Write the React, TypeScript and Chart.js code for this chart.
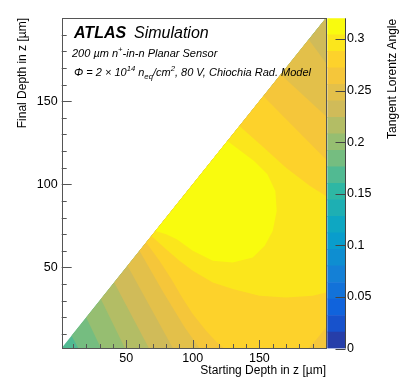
import React, { useEffect, useRef } from 'react';
import { Chart, registerables } from 'chart.js';
Chart.register(...registerables);

const FONT = '"Liberation Sans", Arial, Helvetica, sans-serif';

// ---- data ----
// contour levels of the tangent Lorentz angle (colour bar bands)
const LEVELS = [0, 0.016, 0.032, 0.048, 0.064, 0.08, 0.096, 0.112, 0.128, 0.144, 0.16,
  0.176, 0.192, 0.208, 0.224, 0.24, 0.256, 0.272, 0.288, 0.304, 0.32];
const Z_TICKS = [0, 0.05, 0.1, 0.15, 0.2, 0.25, 0.3];
const XY_MAJOR = [50, 100, 150];
const XY_MINOR = [10, 20, 30, 40, 60, 70, 80, 90, 110, 120, 130, 140, 160, 170, 180, 190];
const AXIS_MIN = 1.6;
const AXIS_MAX = 200;

// regions where tan(theta_L) >= LEVELS[k]; [starting depth, final depth] in um
const REGION_10 = [[1.6, 1.6], [200, 1.6], [200, 200]];
const REGION_11 = [[9, 9], [14, 1.6], [200, 1.6], [200, 200]];
const REGION_12 = [[20, 20], [31, 1.6], [200, 1.6], [200, 200]];
const REGION_13 = [[31, 31], [49, 1.6], [200, 1.6], [200, 200]];
const REGION_14 = [[41, 41], [67, 1.6], [200, 1.6], [200, 200]];
const REGION_15 = [[51, 51], [85, 1.6], [200, 1.6], [200, 173], [187, 187]];
const REGION_16 = [[60, 60], [78, 35], [94, 14], [105, 1.6], [200, 1.6], [200, 141], [166, 166]];
const REGION_17 = [[65, 65], [75, 54], [84, 43], [92, 32], [100, 22], [110, 12], [118, 5],
  [123, 1.6], [187, 1.6], [193, 7], [200, 14], [200, 115], [153, 153]];
const REGION_18 = [[69, 69], [80, 61], [90, 54], [100, 48], [115, 41], [130, 37], [150, 33],
  [170, 32], [190, 33], [200, 35], [200, 93], [188, 99], [170, 110], [152, 123], [135, 135]];
const REGION_19 = [[72, 72], [80, 70], [88, 67], [100, 60], [115, 54], [130, 53], [145, 56],
  [154, 63], [160, 72], [163, 84], [162, 96], [156, 106], [146, 114], [136, 120], [126, 126]];

const REGIONS: [number, number[][]][] = [
  [10, REGION_10], [11, REGION_11], [12, REGION_12], [13, REGION_13], [14, REGION_14],
  [15, REGION_15], [16, REGION_16], [17, REGION_17], [18, REGION_18], [19, REGION_19],
];

// ROOT kBird palette
const BIRD_STOPS = [0, 0.125, 0.25, 0.375, 0.5, 0.625, 0.75, 0.875, 1];
const BIRD_R = [0.2082, 0.0592, 0.078, 0.0232, 0.1802, 0.5301, 0.8186, 0.9956, 0.9764];
const BIRD_G = [0.1664, 0.3599, 0.5041, 0.6419, 0.7178, 0.7492, 0.7328, 0.7862, 0.9832];
const BIRD_B = [0.5293, 0.8684, 0.8385, 0.7914, 0.6425, 0.4662, 0.3499, 0.1968, 0.0539];

function bandColor(i: number): string {
  const f = (i + 0.99) / 20;
  let j = 0;
  while (j < BIRD_STOPS.length - 2 && f > BIRD_STOPS[j + 1]) j++;
  const t = (f - BIRD_STOPS[j]) / (BIRD_STOPS[j + 1] - BIRD_STOPS[j]);
  const c = (a: number[]) => Math.round(255 * (a[j] + (a[j + 1] - a[j]) * t));
  return `rgb(${c(BIRD_R)},${c(BIRD_G)},${c(BIRD_B)})`;
}

type Seg = { t: string; sup?: boolean; sub?: boolean };
function drawRich(ctx: CanvasRenderingContext2D, x: number, y: number, segs: Seg[], size: number) {
  let cx = x;
  for (const s of segs) {
    const fs = s.sup || s.sub ? size * 0.7 : size;
    ctx.font = `italic ${fs}px ${FONT}`;
    const dy = s.sup ? -size * 0.42 : s.sub ? size * 0.28 : 0;
    ctx.fillText(s.t, cx, y + dy);
    cx += ctx.measureText(s.t).width;
  }
}

const mainDecor = {
  id: 'mainDecor',
  afterDraw(chart: any) {
    const { ctx, chartArea: a, scales } = chart;
    ctx.save();
    ctx.strokeStyle = '#555';
    ctx.lineWidth = 1;
    ctx.beginPath();
    for (const v of [...XY_MAJOR, ...XY_MINOR]) {
      const len = XY_MAJOR.includes(v) ? 8 : 4;
      const px = Math.round(scales.x.getPixelForValue(v)) + 0.5;
      ctx.moveTo(px, a.bottom);
      ctx.lineTo(px, a.bottom - len);
      const py = Math.round(scales.y.getPixelForValue(v)) + 0.5;
      ctx.moveTo(a.left, py);
      ctx.lineTo(a.left + len * 1.25, py);
    }
    ctx.stroke();
    ctx.strokeRect(Math.round(a.left) + 0.5, Math.round(a.top) + 0.5,
      Math.round(a.right - a.left), Math.round(a.bottom - a.top));
    ctx.fillStyle = '#000';
    ctx.textBaseline = 'alphabetic';
    ctx.textAlign = 'left';
    ctx.font = `italic bold 16px ${FONT}`;
    ctx.fillText('ATLAS', 74, 38);
    ctx.font = `italic 16px ${FONT}`;
    ctx.fillText('Simulation', 134, 38);
    drawRich(ctx, 72, 56.5, [
      { t: '200 \u00b5m n' }, { t: '+', sup: true }, { t: '-in-n Planar Sensor' },
    ], 11);
    drawRich(ctx, 74, 76, [
      { t: '\u03a6 = 2 \u00d7 10' }, { t: '14', sup: true }, { t: ' n' }, { t: 'eq', sub: true },
      { t: '/cm' }, { t: '2', sup: true }, { t: ', 80 V, Chiochia Rad. Model' },
    ], 11);
    ctx.restore();
  },
};

const cbDecor = {
  id: 'cbDecor',
  afterDraw(chart: any) {
    const { ctx, chartArea: a, scales } = chart;
    ctx.save();
    ctx.strokeStyle = '#444';
    ctx.lineWidth = 1;
    ctx.beginPath();
    const rx = Math.round(a.right) + 0.5;
    ctx.moveTo(rx, a.top);
    ctx.lineTo(rx, a.bottom);
    for (const v of Z_TICKS) {
      const py = Math.round(scales.y.getPixelForValue(v)) + 0.5;
      ctx.moveTo(rx, py);
      ctx.lineTo(rx - 10, py);
    }
    ctx.stroke();
    ctx.translate(393, a.top + 0.5);
    ctx.rotate(-Math.PI / 2);
    ctx.fillStyle = '#000';
    ctx.font = `12px ${FONT}`;
    ctx.textAlign = 'right';
    ctx.textBaseline = 'middle';
    ctx.fillText('Tangent Lorentz Angle', 0, 0);
    ctx.restore();
  },
};

export default function App() {
  const mainRef = useRef<HTMLCanvasElement>(null);
  const cbRef = useRef<HTMLCanvasElement>(null);

  useEffect(() => {
    const tickFont = { family: FONT, size: 12.5 };
    const titleFont = { family: FONT, size: 12 };
    const main = new Chart(mainRef.current as HTMLCanvasElement, {
      type: 'scatter',
      data: {
        datasets: REGIONS.map(([lvl, pts]) => ({
          data: pts.map(([x, y]) => ({ x, y })),
          showLine: true,
          fill: 'shape',
          backgroundColor: bandColor(lvl),
          borderWidth: 0,
          pointRadius: 0,
          pointHoverRadius: 0,
          order: 100 - lvl,
        })),
      } as any,
      options: {
        responsive: false,
        animation: false,
        devicePixelRatio: 1,
        events: [],
        layout: { padding: { top: 18, right: 81, left: 0, bottom: 0 } },
        plugins: { legend: { display: false }, tooltip: { enabled: false } },
        scales: {
          x: {
            type: 'linear', min: AXIS_MIN, max: AXIS_MAX,
            afterBuildTicks: (s: any) => { s.ticks = XY_MAJOR.map((v) => ({ value: v })); },
            afterFit: (s: any) => { s.height = 39; },
            grid: { display: false, drawTicks: false },
            border: { display: false },
            ticks: { font: tickFont, color: '#000', padding: 3, maxRotation: 0 },
            title: {
              display: true, text: 'Starting Depth in z [\u00b5m]', align: 'end',
              font: titleFont, color: '#000', padding: { top: 0, bottom: 9 },
            },
          },
          y: {
            type: 'linear', min: AXIS_MIN, max: AXIS_MAX,
            afterBuildTicks: (s: any) => { s.ticks = XY_MAJOR.map((v) => ({ value: v })); },
            afterFit: (s: any) => { s.width = 61.7; },
            grid: { display: false, drawTicks: false },
            border: { display: false },
            ticks: { font: tickFont, color: '#000', padding: 4 },
            title: {
              display: true, text: 'Final Depth in z [\u00b5m]', align: 'end',
              font: titleFont, color: '#000', padding: { top: 15, bottom: 0 },
            },
          },
        },
      } as any,
      plugins: [mainDecor],
    });

    const cb = new Chart(cbRef.current as HTMLCanvasElement, {
      type: 'bar',
      data: {
        labels: ['z'],
        datasets: LEVELS.slice(0, -1).map((lo, i) => ({
          data: [[lo, LEVELS[i + 1]]],
          backgroundColor: bandColor(i),
          borderWidth: 0,
          barPercentage: 1,
          categoryPercentage: 1,
        })),
      } as any,
      options: {
        responsive: false,
        animation: false,
        devicePixelRatio: 1,
        events: [],
        layout: { padding: { top: 18.3, right: 0, left: 327.3, bottom: 38.5 } },
        plugins: { legend: { display: false }, tooltip: { enabled: false } },
        scales: {
          x: { display: false, stacked: true },
          y: {
            position: 'right', min: 0, max: 0.32,
            afterBuildTicks: (s: any) => { s.ticks = Z_TICKS.map((v) => ({ value: v })); },
            afterFit: (s: any) => { s.width = 62; },
            grid: { display: false, drawTicks: false },
            border: { display: false },
            ticks: { font: tickFont, color: '#000', padding: 2, callback: (v: any) => String(v) },
          },
        },
      } as any,
      plugins: [cbDecor],
    });

    return () => { main.destroy(); cb.destroy(); };
  }, []);

  return (
    <div style={{ position: 'fixed', left: 0, top: 0, width: 407, height: 387, background: '#fff' }}>
      <canvas ref={mainRef} width={407} height={387} style={{ position: 'absolute', left: 0, top: 0 }} />
      <canvas ref={cbRef} width={407} height={387} style={{ position: 'absolute', left: 0, top: 0 }} />
    </div>
  );
}
